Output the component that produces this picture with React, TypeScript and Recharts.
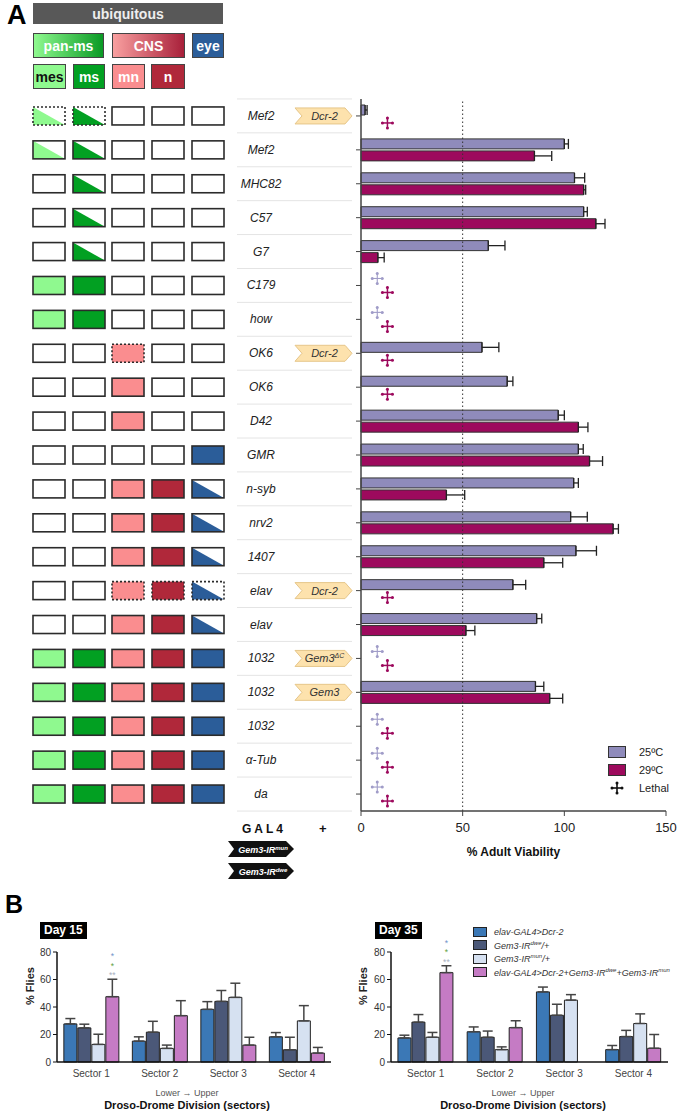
import React from "react";
import {
  ComposedChart,
  BarChart,
  Bar,
  XAxis,
  YAxis,
  ErrorBar,
  Scatter,
  ReferenceLine,
  Legend,
  LabelList,
} from "recharts";

const FONT = "'Liberation Sans', Arial, Helvetica, sans-serif";

// ---- panel A: adult viability per GAL4 driver ----
const drivers = ["Mef2", "Mef2", "MHC82", "C57", "G7", "C179", "how", "OK6", "OK6", "D42", "GMR", "n-syb", "nrv2", "1407", "elav", "elav", "1032", "1032", "1032", "α-Tub", "da"];
const transgenes = ["Dcr-2", "", "", "", "", "", "", "Dcr-2", "", "", "", "", "", "", "Dcr-2", "", "Gem3^ΔC", "Gem3", "", "", ""];
// columns: mes, ms, mn, n, eye  (F = full, H = partial, . = none)
const expression = ["HH...", "HH...", ".H...", ".H...", ".H...", "FF...", "FF...", "..F..", "..F..", "..F..", "....F", "..FFH", "..FFH", "..FFH", "..FFH", "..FFH", "FFFFF", "FFFFF", "FFFFF", "FFFFF", "FFFFF"];
const viability25 = [2, 100, 105, 109.5, 62.6, null, null, 59.5, 71.9, 97, 106.9, 104.6, 103.1, 105.7, 74.7, 86.4, null, 85.8, null, null, null];
const sem25 = [1, 2, 5, 1.8, 8.2, null, null, 8.3, 2.8, 3, 2.4, 2.3, 8.2, 10.1, 6.3, 2.5, null, 4.1, null, null, null];
const viability29 = [null, 85.3, 109.5, 115.5, 8.3, null, null, null, null, 106.9, 112.4, 42, 124, 89.9, null, 51.6, null, 92.8, null, null, null];
const sem29 = [null, 8.5, 1, 4.5, 3.1, null, null, null, null, 4.7, 6.4, 9, 2.6, 9.3, null, 4.4, null, 6.4, null, null, null];
const lethal25 = [false, false, false, false, false, true, true, false, false, false, false, false, false, false, false, false, true, false, true, true, true];
const lethal29 = [true, false, false, false, false, true, true, true, true, false, false, false, false, false, true, false, true, false, true, true, true];
const LETHAL_MARK_25 = 8;
const LETHAL_MARK_29 = 13;
const viabilityTicks = [0, 50, 100, 150];

// ---- panel B: Droso-Drome climbing ----
const sectors = ["Sector 1", "Sector 2", "Sector 3", "Sector 4"];
const day15Elav = [27.7, 15.2, 38.3, 18.3];
const day15ElavSem = [3.9, 3.1, 5.6, 3.1];
const day15Dwe = [24.8, 21.7, 44.1, 8.9];
const day15DweSem = [2.7, 7.9, 7.9, 9.1];
const day15Mun = [12.8, 9.9, 47, 29.9];
const day15MunSem = [7.4, 2.4, 10.3, 11.1];
const day15Kd = [47.5, 33.7, 12.3, 6.5];
const day15KdSem = [12.7, 10.9, 5.7, 4.1];
const day35Elav = [17.5, 22, 51, 9];
const day35ElavSem = [2, 3.5, 3.5, 3];
const day35Dwe = [29, 18, 34, 18.5];
const day35DweSem = [5.5, 4.5, 8, 4.5];
const day35Mun = [18, 9, 45, 28];
const day35MunSem = [3.5, 2, 4, 7];
const day35Kd = [65, 25, null, 10];
const day35KdSem = [5, 5, null, 10];
const kdStars = ["*", "*", "**"];
const flyTicks = [0, 20, 40, 60, 80];

const C25 = "#8f8bbb";
const C29 = "#9d0a5d";
const BOX_X = [33, 73, 112, 152, 192];
const BOX_COLORS = ["#8ff98f", "#02a022", "#fa8d8f", "#b0283a", "#2b5d99"];
const STAR_COLORS = ["#6f92c8", "#5f9f45", "#a7b0c0"];
const SERIES = [
  { key: "elav", color: "#3b78b6" },
  { key: "dwe", color: "#4b5878" },
  { key: "mun", color: "#d6e1f1" },
  { key: "kd", color: "#c57bc4" },
];

const rows = drivers.map((d, i) => ({
  key: String(i),
  v25: viability25[i],
  e25: sem25[i] == null ? null : [0, sem25[i]],
  v29: viability29[i],
  e29: sem29[i] == null ? null : [0, sem29[i]],
  l25: lethal25[i] ? LETHAL_MARK_25 : null,
  l29: lethal29[i] ? LETHAL_MARK_29 : null,
}));

const pair = (v: number | null, s: number | null) => (v == null || s == null ? null : [0, s]);

const day15 = sectors.map((s, i) => ({
  sector: s,
  elav: day15Elav[i], elavErr: pair(day15Elav[i], day15ElavSem[i]),
  dwe: day15Dwe[i], dweErr: pair(day15Dwe[i], day15DweSem[i]),
  mun: day15Mun[i], munErr: pair(day15Mun[i], day15MunSem[i]),
  kd: day15Kd[i], kdErr: pair(day15Kd[i], day15KdSem[i]),
}));

const day35 = sectors.map((s, i) => ({
  sector: s,
  elav: day35Elav[i], elavErr: pair(day35Elav[i], day35ElavSem[i]),
  dwe: day35Dwe[i], dweErr: pair(day35Dwe[i], day35DweSem[i]),
  mun: day35Mun[i], munErr: pair(day35Mun[i], day35MunSem[i]),
  kd: day35Kd[i], kdErr: pair(day35Kd[i], day35KdSem[i]),
}));

function LethalMark({ cx, cy, color, dy, weight }: any) {
  if (cx == null || cy == null || isNaN(cx)) return <g />;
  const y = cy + dy;
  return (
    <g stroke={color} fill={color}>
      <line x1={cx - 6} x2={cx + 6} y1={y} y2={y} strokeWidth={weight} />
      <line x1={cx} x2={cx} y1={y - 6} y2={y + 6} strokeWidth={weight} />
      {[[-5, 0], [5, 0], [0, -5], [0, 5]].map(([a, b], k) => (
        <circle key={k} cx={cx + a} cy={y + b} r={1.5} stroke="none" />
      ))}
    </g>
  );
}

function Tag({ y, label }: { y: number; label: string }) {
  const [base, sup] = label.split("^");
  const x0 = 295;
  const x1 = 352;
  const top = y - 8;
  return (
    <g>
      <polygon
        points={`${x0},${top} ${x1 - 7},${top} ${x1},${y} ${x1 - 7},${top + 16} ${x0},${top + 16} ${x0 + 7},${y}`}
        fill="#fde2ad"
        stroke="#e6c68a"
      />
      <text x={(x0 + x1) / 2 + 1} y={y + 4} textAnchor="middle" fontSize={11} fontStyle="italic" fill="#333" fontFamily={FONT}>
        {base}
        {sup && <tspan fontSize={7} dy={-4}>{sup}</tspan>}
      </text>
    </g>
  );
}

function RowTick(props: any) {
  const { y, payload } = props;
  const i = Number(payload.value);
  const pattern = expression[i];
  const tag = transgenes[i];
  const dashed = tag === "Dcr-2";
  const top = y - 9;
  return (
    <g>
      <line x1={237} x2={352} y1={y - 17} y2={y - 17} stroke="#e4e4e4" />
      {i === drivers.length - 1 && <line x1={237} x2={352} y1={y + 17} y2={y + 17} stroke="#e4e4e4" />}
      {BOX_X.map((bx, c) => {
        const kind = pattern[c];
        return (
          <g key={c}>
            <rect x={bx} y={top} width={32} height={18} fill={kind === "F" ? BOX_COLORS[c] : "#fff"} />
            {kind === "H" && (
              <polygon points={`${bx},${top} ${bx},${top + 18} ${bx + 32},${top + 18}`} fill={BOX_COLORS[c]} />
            )}
            <rect
              x={bx}
              y={top}
              width={32}
              height={18}
              fill="none"
              stroke="#2b2b2b"
              strokeWidth={1.6}
              strokeDasharray={dashed && kind !== "." ? "2 2" : undefined}
            />
          </g>
        );
      })}
      <text x={261} y={y + 4} textAnchor="middle" fontStyle="italic" fontSize={12} fill="#222" fontFamily={FONT}>
        {drivers[i]}
      </text>
      {tag && <Tag y={y} label={tag} />}
    </g>
  );
}

function ViabilityLegend() {
  const item = (label: string, swatch: React.ReactNode) => (
    <div style={{ display: "flex", alignItems: "center", height: 18 }}>
      <div style={{ width: 18, display: "flex", justifyContent: "center", flexShrink: 0 }}>{swatch}</div>
      <span style={{ marginLeft: 13 }}>{label}</span>
    </div>
  );
  return (
    <div style={{ fontFamily: FONT, fontSize: 11, color: "#222" }}>
      {item("25ºC", <div style={{ width: 16, height: 10, background: C25, border: "1px solid #333" }} />)}
      {item("29ºC", <div style={{ width: 16, height: 10, background: C29, border: "1px solid #333" }} />)}
      {item(
        "Lethal",
        <svg width={16} height={16}>
          <LethalMark cx={8} cy={8} dy={0} color="#111" weight={1.6} />
        </svg>
      )}
    </div>
  );
}

function ConstructTag({ top, sup }: { top: number; sup: string }) {
  return (
    <svg style={{ position: "absolute", left: 228, top }} width={66} height={16}>
      <polygon points="0,0 58,0 66,8 58,16 0,16 6,8" fill="#111" />
      <text x={35} y={11.5} textAnchor="middle" fill="#fff" fontSize={9} fontWeight={700} fontStyle="italic" fontFamily={FONT}>
        Gem3-IR<tspan fontSize={6} dy={-3}>{sup}</tspan>
      </text>
    </svg>
  );
}

function StarLabel(props: any) {
  const { index, value, sems } = props;
  const vb = props.viewBox ?? props;
  if (index !== 0 || value == null) return null;
  const { x, y, width, height } = vb;
  const perUnit = Math.abs(height) / value;
  const errTop = Math.min(y, y + height) - (sems[index] ?? 0) * perUnit;
  const cx = x + width / 2;
  return (
    <g fontFamily={FONT} fontSize={8.5} textAnchor="middle">
      {kdStars.map((s, k) => (
        <text key={k} x={cx} y={errTop - 1 - (kdStars.length - 1 - k) * 9.5} fill={STAR_COLORS[k]}>
          {s}
        </text>
      ))}
    </g>
  );
}

function FlyLegend() {
  const labels = [
    <>elav-GAL4&gt;Dcr-2</>,
    <>Gem3-IR<sup style={{ fontSize: 6 }}>dwe</sup>/+</>,
    <>Gem3-IR<sup style={{ fontSize: 6 }}>mun</sup>/+</>,
    <>elav-GAL4&gt;Dcr-2+Gem3-IR<sup style={{ fontSize: 6 }}>dwe</sup>+Gem3-IR<sup style={{ fontSize: 6 }}>mun</sup></>,
  ];
  return (
    <div style={{ fontFamily: FONT, fontSize: 9, fontStyle: "italic", color: "#333" }}>
      {SERIES.map((s, i) => (
        <div key={s.key} style={{ display: "flex", alignItems: "center", height: 13.5, whiteSpace: "nowrap" }}>
          <div style={{ width: 12, height: 8, background: s.color, border: "1px solid #222", marginRight: 7, flexShrink: 0 }} />
          <span>{labels[i]}</span>
        </div>
      ))}
    </div>
  );
}

function FlyChart({ data, left, right, title, legend, sems }: any) {
  return (
    <div style={{ position: "absolute", left, top: 915, width: 340, height: 199 }}>
      <BarChart width={340} height={199} data={data} margin={{ top: 37, right, left: 0, bottom: 0 }} barGap={1} barCategoryGap="10%">
        <XAxis
          dataKey="sector"
          tickLine={false}
          axisLine={{ stroke: "#111", strokeWidth: 1.5 }}
          tick={{ fontSize: 10, fill: "#444", fontFamily: FONT }}
          height={52}
        />
        <YAxis
          domain={[0, 80]}
          ticks={flyTicks}
          width={57}
          tickSize={4}
          tick={{ fontSize: 10, fill: "#333", fontFamily: FONT }}
          axisLine={{ stroke: "#111", strokeWidth: 1.5 }}
          tickLine={{ stroke: "#111" }}
        />
        {SERIES.map((s) => (
          <Bar key={s.key} dataKey={s.key} fill={s.color} stroke="#222" strokeWidth={1} isAnimationActive={false}>
            <ErrorBar dataKey={`${s.key}Err`} direction="y" width={5} stroke="#444" strokeWidth={1.5} />
            {s.key === "kd" && <LabelList dataKey="kd" content={(p: any) => <StarLabel {...p} sems={sems} />} />}
          </Bar>
        ))}
        {legend && (
          <Legend
            layout="vertical"
            align="center"
            verticalAlign="middle"
            content={<FlyLegend />}
            wrapperStyle={{ left: 139, top: 10, width: 200 }}
          />
        )}
      </BarChart>
      <div style={{ position: "absolute", left: left === 0 ? 40 : 41, top: 7, background: "#000", color: "#fff", fontWeight: 700, fontSize: 12, fontFamily: FONT, padding: "2px 4px", lineHeight: "13px" }}>
        {title}
      </div>
      <div style={{ position: "absolute", left: left === 0 ? 24 : 23, top: 90, transform: "rotate(-90deg)", transformOrigin: "left top", fontFamily: FONT, fontSize: 11, fontWeight: 700, color: "#222", whiteSpace: "nowrap" }}>
        % Flies
      </div>
      <div style={{ position: "absolute", left: 0, width: left === 0 ? 374 : 378, top: 173, textAlign: "center", fontFamily: FONT, fontSize: 9, color: "#555" }}>
        Lower → Upper
      </div>
      <div style={{ position: "absolute", left: 0, width: left === 0 ? 374 : 378, top: 184, textAlign: "center", fontFamily: FONT, fontSize: 11, fontWeight: 700, color: "#111" }}>
        Droso-Drome Division (sectors)
      </div>
    </div>
  );
}

const box = (extra: React.CSSProperties): React.CSSProperties => ({
  position: "absolute",
  display: "flex",
  alignItems: "center",
  justifyContent: "center",
  fontFamily: FONT,
  fontWeight: 700,
  fontSize: 14,
  color: "#fff",
  boxSizing: "border-box",
  border: "1px solid #444",
  ...extra,
});

export default function App() {
  return (
    <div style={{ position: "absolute", left: 0, top: 0, width: 680, height: 1114, background: "#fff", overflow: "hidden" }}>
      <div style={{ position: "absolute", left: 0, top: 0 }}>
        <ComposedChart
          width={680}
          height={870}
          data={rows}
          layout="vertical"
          margin={{ top: 99, right: 14, bottom: 0, left: 0 }}
          barGap={2}
        >
          <XAxis
            type="number"
            domain={[0, 150]}
            ticks={viabilityTicks}
            height={59}
            tickSize={5}
            tickMargin={7}
            tick={{ fontSize: 13, fill: "#222", fontFamily: FONT }}
            tickLine={{ stroke: "#444" }}
            axisLine={{ stroke: "#444", strokeWidth: 1.5 }}
            label={{ value: "% Adult Viability", position: "insideBottom", offset: 14, style: { fontSize: 12, fontWeight: 700, fill: "#111", fontFamily: FONT } }}
          />
          <YAxis
            type="category"
            dataKey="key"
            width={361}
            interval={0}
            tick={<RowTick />}
            tickSize={5}
            tickLine={{ stroke: "#444" }}
            axisLine={{ stroke: "#444", strokeWidth: 1.5 }}
          />
          <ReferenceLine x={50} stroke="#333" strokeDasharray="1.5 2.5" />
          <Bar dataKey="v25" fill={C25} stroke="#333" strokeWidth={1} barSize={10} isAnimationActive={false}>
            <ErrorBar dataKey="e25" direction="x" width={5} stroke="#222" strokeWidth={1.3} />
          </Bar>
          <Bar dataKey="v29" fill={C29} stroke="#333" strokeWidth={1} barSize={10} isAnimationActive={false}>
            <ErrorBar dataKey="e29" direction="x" width={5} stroke="#222" strokeWidth={1.3} />
          </Bar>
          <Scatter dataKey="l25" isAnimationActive={false} shape={(p: any) => <LethalMark {...p} color="#a09cc8" dy={-7} weight={1.1} />} />
          <Scatter dataKey="l29" isAnimationActive={false} shape={(p: any) => <LethalMark {...p} color={C29} dy={7} weight={1.5} />} />
          <Legend
            layout="vertical"
            align="center"
            verticalAlign="middle"
            content={<ViabilityLegend />}
            wrapperStyle={{ left: 608, top: 743, width: 70 }}
          />
        </ComposedChart>
      </div>

      <div style={{ position: "absolute", left: 7, top: 0, fontFamily: FONT, fontWeight: 700, fontSize: 27, color: "#000" }}>A</div>
      <div style={box({ left: 33, top: 3, width: 190, height: 21, background: "#585858", border: "none", color: "#eee", fontSize: 14 })}>ubiquitous</div>
      <div style={box({ left: 33, top: 33, width: 71, height: 25, background: "linear-gradient(to right, #8ff98f, #0a9a25)" })}>pan-ms</div>
      <div style={box({ left: 112, top: 33, width: 73, height: 25, background: "linear-gradient(to right, #f9a0a0, #a8203a)" })}>CNS</div>
      <div style={box({ left: 192, top: 33, width: 32, height: 25, background: "#2b5d99" })}>eye</div>
      <div style={box({ left: 33, top: 64, width: 33, height: 25, background: "#8ff98f", color: "#111" })}>mes</div>
      <div style={box({ left: 73, top: 64, width: 32, height: 25, background: "#02a022" })}>ms</div>
      <div style={box({ left: 112, top: 64, width: 33, height: 25, background: "#fa8d8f" })}>mn</div>
      <div style={box({ left: 151, top: 64, width: 34, height: 25, background: "#b0283a" })}>n</div>

      <div style={{ position: "absolute", left: 242, top: 822, fontFamily: FONT, fontWeight: 700, fontSize: 12, letterSpacing: 3, color: "#111" }}>GAL4</div>
      <div style={{ position: "absolute", left: 319, top: 821, fontFamily: FONT, fontWeight: 700, fontSize: 13, color: "#111" }}>+</div>
      <ConstructTag top={841} sup="mun" />
      <ConstructTag top={863} sup="dwe" />

      <div style={{ position: "absolute", left: 5, top: 890, fontFamily: FONT, fontWeight: 700, fontSize: 25, color: "#000" }}>B</div>
      <FlyChart data={day15} left={0} right={9} title="Day 15" legend={false} sems={day15KdSem} />
      <FlyChart data={day35} left={334} right={6} title="Day 35" legend sems={day35KdSem} />
    </div>
  );
}
